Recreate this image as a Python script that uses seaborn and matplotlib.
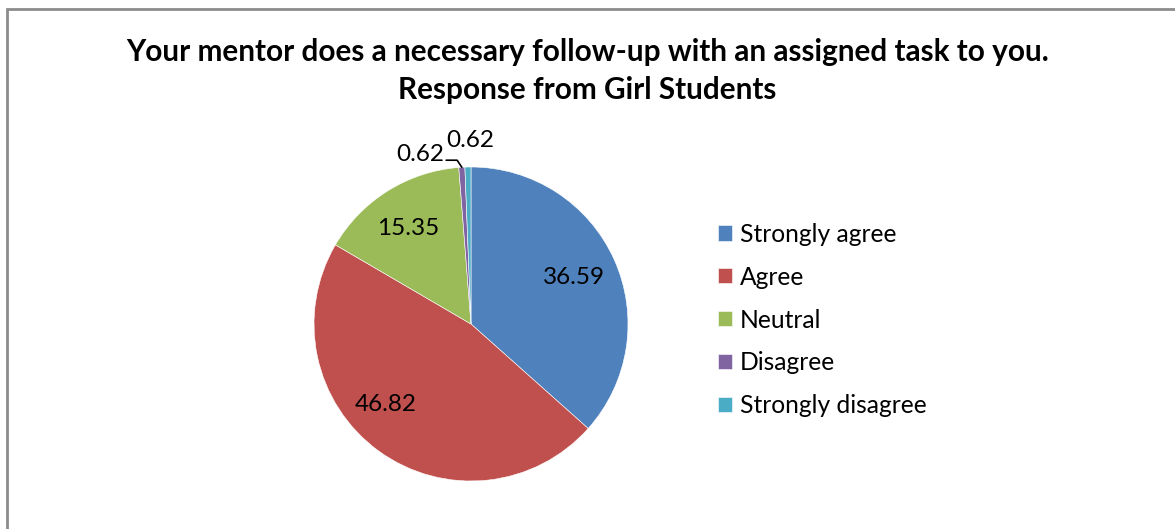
import matplotlib.pyplot as plt
import seaborn as sns
import numpy as np
from matplotlib.patches import Rectangle

# Survey responses (percent) - girl students
categories = ["Strongly agree", "Agree", "Neutral", "Disagree", "Strongly disagree"]
values = [36.59, 46.82, 15.35, 0.62, 0.62]
value_labels = ["36.59", "46.82", "15.35", "0.62", "0.62"]
colors = ["#4F81BD", "#C0504D", "#9BBB59", "#8064A2", "#4BACC6"]

title = ("Your mentor does a necessary follow-up with an assigned task to you.\n"
         "Response from Girl Students")

sns.set_theme(style="white")
plt.rcParams['font.family'] = ['Lato', 'DejaVu Sans']
plt.rcParams['text.color'] = 'black'

fig = plt.figure(figsize=(11.75, 5.29), dpi=100)

# outer chart border (runs off the right and bottom edge like the original)
fig.patches.append(Rectangle((7 / 1175, -0.05), 1.2, 1 - 9 / 529 + 0.05,
                             transform=fig.transFigure, fill=False,
                             edgecolor="#8c8c8c", linewidth=2))

# square axes that holds the pie (radius 1)
ax = fig.add_axes([314 / 1175, 48 / 529, 314 / 1175, 314 / 529])
wedges, _ = ax.pie(values, colors=colors, startangle=90, counterclock=False,
                   radius=1.0, wedgeprops=dict(edgecolor="white", linewidth=0.4))
ax.set_xlim(-1, 1)
ax.set_ylim(-1, 1)
ax.set_aspect("auto")
ax.axis("off")

lab_size = 17.5

# inside labels for the big slices, nudged like Excel's best-fit placement
label_nudge = {"Strongly agree": (0.0, 0.0), "Agree": (-0.12, 0.07), "Neutral": (-0.02, 0.0)}
for w, cat, lab in zip(wedges, categories, value_labels):
    mid = np.deg2rad((w.theta1 + w.theta2) / 2)
    if cat in label_nudge:
        dx, dy = label_nudge[cat]
        ax.text(0.72 * np.cos(mid) + dx, 0.72 * np.sin(mid) + dy, lab,
                ha="center", va="center", fontsize=lab_size, color="black")

# tiny slices: outside labels
w_dis, w_sdis = wedges[3], wedges[4]
mid = np.deg2rad((w_dis.theta1 + w_dis.theta2) / 2)
tip = np.array([np.cos(mid), np.sin(mid)])
elbow = tip + np.array([-0.03, 0.045])
end = elbow + np.array([-0.07, 0.0])
ax.plot([tip[0], elbow[0], end[0]], [tip[1], elbow[1], end[1]],
        color="black", lw=1.2, clip_on=False)
ax.text(end[0] - 0.01, end[1] + 0.035, value_labels[3], ha="right", va="center",
        fontsize=lab_size, color="black")

mid = np.deg2rad((w_sdis.theta1 + w_sdis.theta2) / 2)
ax.text(np.cos(mid) * 1.166 + 0.015, np.sin(mid) * 1.166, value_labels[4],
        ha="center", va="center", fontsize=lab_size, color="black")

# title
fig.text(0.5, 1 - 71 / 529, title, ha="center", va="center",
         fontsize=21.4, fontweight="bold", linespacing=1.4, color="black")

# legend
fig.legend(wedges, categories, loc="center left",
           bbox_to_anchor=(718 / 1175, 1 - 320 / 529), frameon=False,
           fontsize=17.7, handlelength=0.57, handleheight=0.57,
           handletextpad=0.33, labelspacing=0.81, borderpad=0, borderaxespad=0,
           labelcolor="black")

fig.savefig("out.png", dpi=100, facecolor="white")
